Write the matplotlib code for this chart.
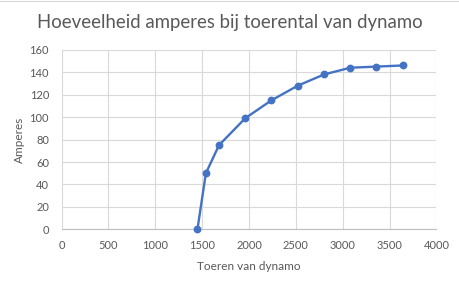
import matplotlib.pyplot as plt

# toerental (x) en stroom (y)
toeren = [1450, 1540, 1680, 1960, 2240, 2520, 2800, 3080, 3360, 3640]
amperes = [0, 50, 75, 99, 115, 128, 138, 144, 145, 146]

x_ticks = [0, 500, 1000, 1500, 2000, 2500, 3000, 3500, 4000]
y_ticks = [0, 20, 40, 60, 80, 100, 120, 140, 160]

plt.rcParams["font.family"] = ["Lato", "DejaVu Sans"]

fig = plt.figure(figsize=(4.6, 2.86), dpi=100)
ax = fig.add_axes([0.1337, 0.198, 0.8152, 0.628])

ax.plot(
    toeren,
    amperes,
    color="#4472C4",
    linewidth=1.7,
    marker="o",
    markersize=4.6,
    zorder=3,
    clip_on=False
)

ax.set_xlim(0, 4000)
ax.set_ylim(0, 160)
ax.set_xticks(x_ticks)
ax.set_yticks(y_ticks)

ax.grid(True, color="#d9d9d9", linewidth=0.8)
ax.set_axisbelow(True)

for side in ["top", "right", "left"]:
    ax.spines[side].set_visible(False)
ax.spines["bottom"].set_color("#bfbfbf")
ax.spines["bottom"].set_linewidth(0.8)

ax.tick_params(axis="both", length=0, labelsize=8, labelcolor="#595959")
ax.tick_params(axis="x", pad=7.5)
ax.tick_params(axis="y", pad=9)

ax.set_xlabel("Toeren van dynamo", fontsize=8.5, color="#595959", labelpad=7)
ax.set_ylabel("Amperes", fontsize=8.5, color="#595959", labelpad=3.5)

fig.text(
    0.5,
    0.922,
    "Hoeveelheid amperes bij toerental van dynamo",
    ha="center",
    va="center",
    fontsize=13.4,
    color="#595959"
)

# dunne rand bovenaan zoals in de bron
fig.add_artist(plt.Line2D([0, 1], [0.998, 0.998], color="#d9d9d9", linewidth=0.8))

fig.savefig("out.png", dpi=100)
